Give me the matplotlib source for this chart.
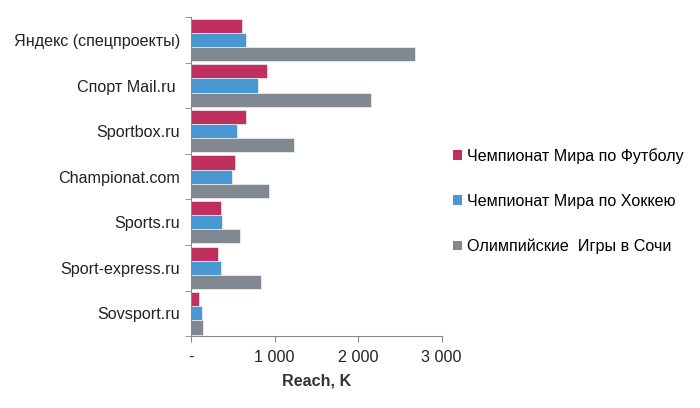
import matplotlib.pyplot as plt
import numpy as np
from matplotlib.patches import Patch

plt.rcParams['font.family'] = ['Liberation Sans', 'DejaVu Sans']

# data ---------------------------------------------------------------
sites = ["Яндекс (спецпроекты)", "Спорт Mail.ru ", "Sportbox.ru", "Championat.com",
         "Sports.ru", "Sport-express.ru", "Sovsport.ru"]
football = [607, 910, 655, 525, 355, 320, 100]
hockey = [655, 800, 545, 495, 370, 355, 135]
sochi = [2675, 2150, 1235, 935, 580, 835, 145]
series_names = ["Чемпионат Мира по Футболу", "Чемпионат Мира по Хоккею",
                "Олимпийские  Игры в Сочи"]
colors = ["#C0305E", "#4A98D3", "#808892"]
# --------------------------------------------------------------------

fig = plt.figure(figsize=(7, 4.08), dpi=100)
ax = fig.add_axes([0.273, 0.176, 0.358, 0.782])

y = np.arange(len(sites))
h = 0.31
for vals, off, c in zip([football, hockey, sochi], [-h, 0, h], colors):
    ax.barh(y + off, vals, height=h, color=c, edgecolor="white", linewidth=0.4)

ax.set_ylim(len(sites) - 0.5, -0.5)
ax.set_xlim(0, 3000)
ax.set_yticks(y)
ax.set_yticklabels(sites, fontsize=11.6, color="#222222")
ax.set_yticks(np.arange(len(sites) + 1) - 0.5, minor=True)
ax.tick_params(axis="y", which="major", length=0, pad=8)
ax.tick_params(axis="y", which="minor", length=4, color="#888888", direction="out")

ax.set_xticks([0, 1000, 2000, 3000])
ax.set_xticklabels(["-", "1 000", "2 000", "3 000"], fontsize=11.6, color="#222222")
ax.tick_params(axis="x", length=4, color="#888888", direction="out", pad=6)
ax.set_xlabel("Reach, K", fontsize=11.6, fontweight="bold", color="#333333", labelpad=6)

for s in ["top", "right"]:
    ax.spines[s].set_visible(False)
for s in ["left", "bottom"]:
    ax.spines[s].set_color("#888888")

handles = [Patch(facecolor=c, edgecolor="none") for c in colors]
fig.legend(handles, series_names, loc="center left", bbox_to_anchor=(0.647, 0.507),
           frameon=False, fontsize=11.6, labelspacing=1.85, handlelength=0.55,
           handleheight=0.55, handletextpad=0.3, borderpad=0, borderaxespad=0)

fig.savefig("out.png", dpi=100)
